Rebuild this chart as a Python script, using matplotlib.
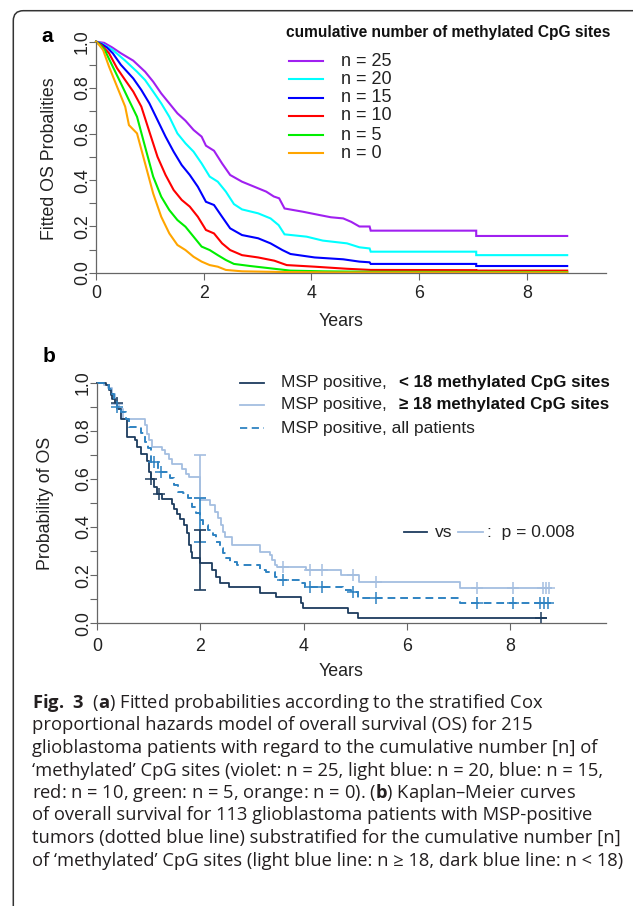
import numpy as np
import matplotlib
matplotlib.use("Agg")
import matplotlib.pyplot as plt
from matplotlib.lines import Line2D
from matplotlib.patches import FancyBboxPatch
from matplotlib.transforms import IdentityTransform
from matplotlib.ticker import MultipleLocator, FormatStrFormatter

plt.rcParams['font.family'] = ['Liberation Sans', 'DejaVu Sans']
plt.rcParams['mathtext.fontset'] = 'custom'
plt.rcParams['mathtext.rm'] = 'Open Sans'
plt.rcParams['mathtext.bf'] = 'Open Sans:bold'

# ---- panel a: fitted Cox curves (vertices), one per n
a_labels = ["n = 25", "n = 20", "n = 15", "n = 10", "n = 5", "n = 0"]
a_colors = ["#a020f0", "#00ffff", "#0000ff", "#ff0000", "#00ee00", "#ffa500"]

t25 = [0, 0.15, 0.3, 0.46, 0.69, 0.91, 1.06, 1.21, 1.36, 1.51, 1.66, 1.81, 1.96, 2.04, 2.19, 2.34,
       2.49, 2.71, 2.94, 3.16, 3.3, 3.4, 3.5, 3.84, 4.14, 4.36, 4.59, 4.74, 4.89, 5.08, 5.1, 7.06, 7.06, 8.75]
s25 = [1.0, 0.995, 0.975, 0.95, 0.918, 0.87, 0.827, 0.776, 0.733, 0.69, 0.658, 0.618, 0.589, 0.55, 0.528, 0.473,
       0.423, 0.394, 0.372, 0.351, 0.33, 0.322, 0.278, 0.264, 0.25, 0.24, 0.235, 0.22, 0.2, 0.2, 0.182, 0.182,
       0.159, 0.159]

t20 = [0, 0.12, 0.31, 0.54, 0.76, 0.91, 1.06, 1.21, 1.36, 1.51, 1.66, 1.81, 1.96, 2.11, 2.26, 2.41,
       2.56, 2.71, 3.01, 3.24, 3.39, 3.5, 3.91, 4.21, 4.66, 4.89, 5.08, 5.1, 7.06, 7.06, 8.75]
s20 = [1.0, 0.99, 0.964, 0.918, 0.87, 0.834, 0.784, 0.733, 0.675, 0.603, 0.56, 0.524, 0.473, 0.416, 0.394, 0.351,
       0.297, 0.274, 0.257, 0.235, 0.206, 0.166, 0.156, 0.139, 0.127, 0.11, 0.105, 0.091, 0.091, 0.076, 0.076]

t15 = [0, 0.1, 0.2, 0.31, 0.46, 0.69, 0.84, 0.99, 1.14, 1.29, 1.44, 1.59, 1.74, 1.89, 2.04, 2.19,
       2.34, 2.49, 2.71, 3.01, 3.24, 3.46, 3.61, 4.06, 4.59, 4.89, 5.08, 5.1, 7.06, 7.06, 8.75]
s15 = [1.0, 0.99, 0.975, 0.95, 0.9, 0.841, 0.791, 0.733, 0.661, 0.589, 0.524, 0.466, 0.423, 0.372, 0.307, 0.293,
       0.242, 0.192, 0.163, 0.149, 0.127, 0.098, 0.081, 0.066, 0.058, 0.048, 0.045, 0.038, 0.038, 0.029, 0.029]

t10 = [0, 0.1, 0.24, 0.39, 0.54, 0.69, 0.84, 0.99, 1.14, 1.29, 1.44, 1.59, 1.74, 1.89, 2.04, 2.19,
       2.34, 2.49, 2.71, 3.01, 3.31, 3.54, 4.06, 4.66, 5.1, 7.06, 7.06, 8.75]
s10 = [1.0, 0.985, 0.95, 0.885, 0.834, 0.784, 0.719, 0.61, 0.502, 0.423, 0.358, 0.315, 0.286, 0.242, 0.185, 0.17,
       0.127, 0.098, 0.076, 0.066, 0.052, 0.033, 0.026, 0.017, 0.012, 0.011, 0.009, 0.009]

t5 = [0, 0.08, 0.16, 0.31, 0.46, 0.61, 0.76, 0.91, 1.06, 1.21, 1.36, 1.51, 1.66, 1.81, 1.96, 2.11,
      2.26, 2.41, 2.56, 2.86, 3.31, 3.61, 4.21, 5.1, 8.75]
s5 = [1.0, 0.985, 0.964, 0.892, 0.82, 0.747, 0.675, 0.545, 0.416, 0.329, 0.271, 0.228, 0.199, 0.156, 0.113, 0.098,
      0.076, 0.055, 0.038, 0.029, 0.017, 0.009, 0.006, 0.004, 0.003]

t0 = [0, 0.06, 0.13, 0.24, 0.39, 0.54, 0.61, 0.76, 0.91, 1.06, 1.21, 1.36, 1.51, 1.66, 1.81, 1.96,
      2.11, 2.26, 2.41, 2.71, 3.46, 4.5, 8.75]
s0 = [1.0, 0.985, 0.964, 0.892, 0.805, 0.719, 0.639, 0.603, 0.473, 0.343, 0.242, 0.17, 0.12, 0.098, 0.069, 0.048,
      0.033, 0.026, 0.012, 0.006, 0.003, 0.001, 0.001]

a_times = [t25, t20, t15, t10, t5, t0]
a_surv = [s25, s20, s15, s10, s5, s0]

# ---- panel b: Kaplan-Meier, MSP positive
t_lo = [0, 0.16, 0.23, 0.26, 0.29, 0.34, 0.39, 0.45, 0.58, 0.74, 0.77, 0.84, 0.97, 1.0, 1.05, 1.10, 1.16,
        1.26, 1.45, 1.48, 1.55, 1.61, 1.68, 1.73, 1.78, 1.81, 1.84, 2.0, 2.23, 2.31, 2.37, 2.55, 3.15,
        3.46, 3.95, 3.99, 4.87, 5.05, 8.7]
s_lo = [1.0, 0.989, 0.968, 0.947, 0.934, 0.917, 0.892, 0.85, 0.774, 0.76, 0.733, 0.705, 0.673, 0.629, 0.601,
        0.566, 0.539, 0.518, 0.497, 0.476, 0.456, 0.435, 0.407, 0.374, 0.325, 0.298, 0.27, 0.252, 0.222,
        0.194, 0.166, 0.15, 0.127, 0.108, 0.086, 0.062, 0.044, 0.024, 0.024]
cens_lo = [0.38, 1.05, 1.2, 8.6]

t_hi = [0, 0.13, 0.2, 0.29, 0.35, 0.42, 0.5, 0.92, 0.97, 1.01, 1.06, 1.26, 1.32, 1.39, 1.45, 1.65, 1.71,
        1.77, 2.0, 2.18, 2.28, 2.34, 2.39, 2.44, 2.47, 2.62, 3.15, 3.34, 3.39, 3.44, 3.49, 4.05, 4.73,
        5.08, 7.04, 8.8]
s_hi = [1.0, 0.99, 0.98, 0.954, 0.913, 0.892, 0.85, 0.823, 0.788, 0.76, 0.733, 0.719, 0.705, 0.684, 0.663,
        0.643, 0.622, 0.608, 0.512, 0.49, 0.464, 0.436, 0.409, 0.381, 0.36, 0.325, 0.298, 0.284, 0.263,
        0.242, 0.236, 0.222, 0.201, 0.173, 0.145, 0.145]
cens_hi = [0.38, 3.6, 4.12, 4.35, 4.96, 5.4, 7.37, 8.05, 8.64, 8.7, 8.76]

t_all = [0, 0.15, 0.22, 0.28, 0.33, 0.38, 0.45, 0.55, 0.62, 0.85, 0.93, 0.99, 1.05, 1.17, 1.40, 1.48,
         1.56, 1.67, 1.75, 1.83, 1.91, 2.0, 2.05, 2.15, 2.25, 2.31, 2.37, 2.44, 2.49, 2.57, 2.70, 3.15,
         3.28, 3.44, 3.5, 3.95, 4.02, 4.76, 4.92, 5.05, 7.04, 8.8]
s_all = [1.0, 0.99, 0.975, 0.955, 0.93, 0.9, 0.878, 0.85, 0.817, 0.79, 0.755, 0.727, 0.672, 0.63, 0.602,
         0.575, 0.547, 0.54, 0.52, 0.485, 0.457, 0.43, 0.409, 0.388, 0.367, 0.339, 0.312, 0.291, 0.27,
         0.256, 0.242, 0.222, 0.215, 0.194, 0.18, 0.166, 0.15, 0.14, 0.132, 0.104, 0.086, 0.086]
cens_all = [0.38, 1.09, 1.24, 3.6, 4.12, 4.35, 4.96, 5.4, 7.37, 8.05, 8.58, 8.66, 8.73]

# bars at 2 years (low, high)
bar_t = 2.0
bar_lo = (0.139, 0.388)
bar_hi = (0.52, 0.70)
bar_all = (0.339, 0.519)

c_lo, c_hi, c_all = "#1d3c5e", "#a4bee0", "#2f83c2"

caption = [
    "$\\mathbf{Fig.\\ 3}$  ($\\mathbf{a}$) Fitted probabilities according to the stratified Cox",
    "proportional hazards model of overall survival (OS) for 215",
    "glioblastoma patients with regard to the cumulative number [n] of",
    "\u2018methylated\u2019 CpG sites (violet: n = 25, light blue: n = 20, blue: n = 15,",
    "red: n = 10, green: n = 5, orange: n = 0). ($\\mathbf{b}$) Kaplan\u2013Meier curves",
    "of overall survival for 113 glioblastoma patients with MSP-positive",
    "tumors (dotted blue line) substratified for the cumulative number [n]",
    "of \u2018methylated\u2019 CpG sites (light blue line: n \u2265 18, dark blue line: n < 18)",
]

W, H = 633, 906
fig = plt.figure(figsize=(W / 100, H / 100), dpi=100)


def fx(x):
    return x / W


def fy(y):
    return 1 - y / H


def step_at(t, s, x):
    i = np.searchsorted(t, x, side="right") - 1
    return np.asarray(s)[i]


def style_axes(ax, xpad):
    for sp in ["top", "right"]:
        ax.spines[sp].set_visible(False)
    for sp in ["left", "bottom"]:
        ax.spines[sp].set_color("#666666")
        ax.spines[sp].set_linewidth(0.9)
    ax.spines["left"].set_bounds(0, 1)
    ax.set_ylim(0, 1)
    ax.xaxis.set_major_locator(MultipleLocator(2))
    ax.yaxis.set_major_locator(MultipleLocator(0.2))
    ax.yaxis.set_minor_locator(MultipleLocator(0.1))
    ax.yaxis.set_major_formatter(FormatStrFormatter("%.1f"))
    ax.tick_params(which="both", length=4.8, width=0.8, color="#666666",
                   labelsize=12.8, labelcolor="#222222")
    ax.tick_params(axis="x", pad=xpad)
    ax.tick_params(axis="y", pad=-1.0)
    for lab in ax.get_yticklabels():
        lab.set_rotation(90)
        lab.set_va("center")


# frame around the figure
frame = FancyBboxPatch((13.3, -30), W + 40, H - 10.7 + 30,
                       boxstyle="round,pad=0,rounding_size=10",
                       transform=IdentityTransform(), fill=False,
                       edgecolor="#333333", linewidth=1.1)
fig.add_artist(frame)

# ---------------- panel a
ax_a = fig.add_axes([fx(96.1), fy(272.7), (605.6 - 96.1) / W, (272.7 - 41.7) / H])
ax_a.set_xlim(0, (605.6 - 96.1) / 53.84)
style_axes(ax_a, 4)
for t, s, c in zip(a_times, a_surv, a_colors):
    ax_a.plot(t, s, color=c, lw=1.5, clip_on=False, solid_joinstyle="miter")

fig.text(fx(47), fy(37), "a", fontsize=15, fontweight="bold", ha="center", va="center")
fig.text(fx(50), fy(159), "Fitted OS Probalities", fontsize=12.8, rotation=90,
         ha="center", va="center", color="#222222")
fig.text(fx(341), fy(322), "Years", fontsize=12.8, ha="center", va="center", color="#222222")

fig.text(fx(286), fy(33), "cumulative number of methylated CpG sites", fontsize=11.2,
         fontweight="bold", ha="left", va="center", color="#111111")
row_y = [61, 79.3, 97.7, 116, 135, 153.3]
for lab, c, y in zip(a_labels, a_colors, row_y):
    fig.add_artist(Line2D([fx(289), fx(323)], [fy(y), fy(y)], color=c, lw=1.5))
    fig.text(fx(341), fy(y), lab, fontsize=13, ha="left", va="center", color="#222222")

# ---------------- panel b
ax_b = fig.add_axes([fx(97.3), fy(623.3), (605.6 - 97.3) / W, (623.3 - 382.7) / H])
ax_b.set_xlim(0, (605.6 - 97.3) / 51.58)
style_axes(ax_b, 5.5)

ax_b.step(t_hi, s_hi, where="post", color=c_hi, lw=1.3, clip_on=False)
ax_b.step(t_lo, s_lo, where="post", color=c_lo, lw=1.3, clip_on=False)
ax_b.step(t_all, s_all, where="post", color=c_all, lw=1.4, dashes=(4, 2.5), clip_on=False)

for t, s, cens, c in [(t_hi, s_hi, cens_hi, c_hi), (t_lo, s_lo, cens_lo, c_lo),
                      (t_all, s_all, cens_all, c_all)]:
    ax_b.plot(cens, step_at(t, s, cens), ls="none", marker="+", ms=8, mew=1.1,
              color=c, clip_on=False)

for (lo, hi), c in [(bar_hi, c_hi), (bar_all, c_all), (bar_lo, c_lo)]:
    ax_b.errorbar([bar_t], [(lo + hi) / 2], yerr=[[(hi - lo) / 2], [(hi - lo) / 2]],
                  fmt="none", ecolor=c, elinewidth=1.2, capsize=4, capthick=1.2)

fig.text(fx(49), fy(357), "b", fontsize=15, fontweight="bold", ha="center", va="center")
fig.text(fx(46), fy(503), "Probability of OS", fontsize=12.8, rotation=90,
         ha="center", va="center", color="#222222")
fig.text(fx(341), fy(672), "Years", fontsize=12.8, ha="center", va="center", color="#222222")

leg_b = [("MSP positive,", "< 18 methylated CpG sites", c_lo, "-"),
         ("MSP positive,", "\u2265 18 methylated CpG sites", c_hi, "-"),
         ("MSP positive, all patients", "", c_all, "--")]
for (reg, bold, c, ls), y in zip(leg_b, [382.5, 405, 428]):
    ln = Line2D([fx(240), fx(264)], [fy(y), fy(y)], color=c, lw=1.3)
    if ls == "--":
        ln.set_dashes((4, 2.5))
    fig.add_artist(ln)
    fig.text(fx(280.6), fy(y), reg, fontsize=12.5, ha="left", va="center", color="#222222")
    if bold:
        fig.text(fx(399), fy(y), bold, fontsize=12.2, fontweight="bold", ha="left",
                 va="center", color="#111111")

yp = 532.3
fig.add_artist(Line2D([fx(403.7), fx(427)], [fy(yp), fy(yp)], color=c_lo, lw=1.3))
fig.text(fx(435), fy(yp), "vs", fontsize=12.5, ha="left", va="center", color="#222222")
fig.add_artist(Line2D([fx(458), fx(482.5)], [fy(yp), fy(yp)], color=c_hi, lw=1.3))
fig.text(fx(487), fy(yp), ":  p = 0.008", fontsize=12.5, ha="left", va="center", color="#222222")

# ---------------- caption
for i, line in enumerate(caption):
    fig.text(fx(31.7), fy(708 + 22.5 * i), line, fontsize=13.2, family=["Open Sans", "DejaVu Sans"],
             ha="left", va="baseline", color="#231f20")

fig.savefig("out.png", dpi=100)
